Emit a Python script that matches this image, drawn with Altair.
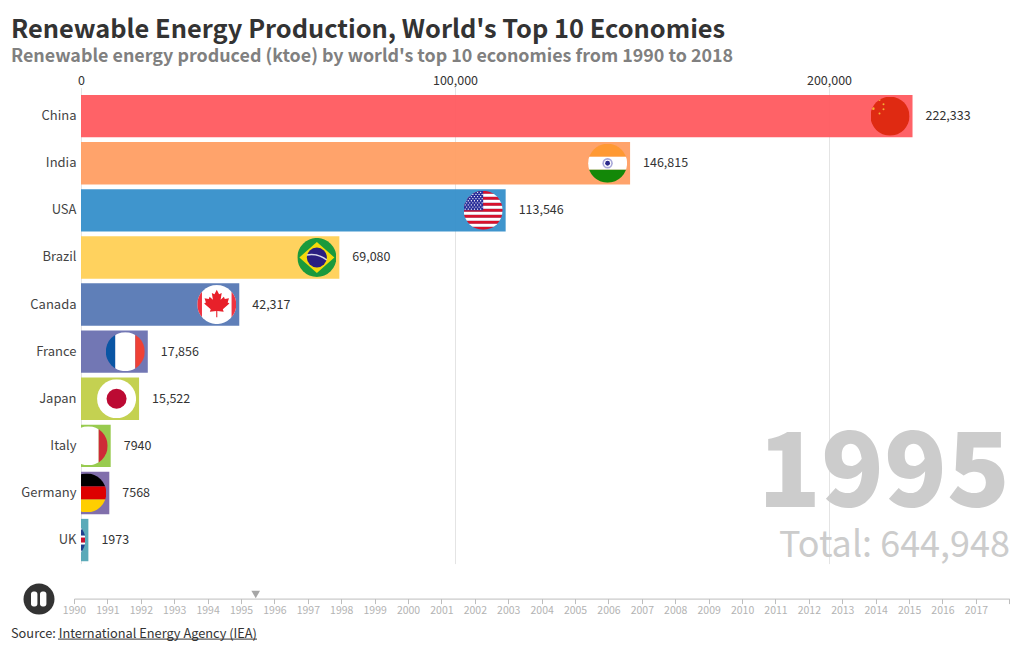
import base64
import altair as alt
import pandas as pd

FONT = "Noto Sans CJK SC"

countries = ["China", "India", "USA", "Brazil", "Canada", "France", "Japan", "Italy", "Germany", "UK"]
values = [222333, 146815, 113546, 69080, 42317, 17856, 15522, 7940, 7568, 1973]
value_labels = ["222,333", "146,815", "113,546", "69,080", "42,317", "17,856", "15,522", "7940", "7568", "1973"]
colors = ["#ff5a5f", "#ff9e63", "#358fca", "#ffd055", "#5678b4", "#6a70b0", "#c1cf48", "#92c846", "#7a67a7", "#52a5b5"]
x_ticks = [0, 100000, 200000]
years = list(range(1990, 2019))
current_year = "1995"
current_pos = 1995.44
total_text = "Total: 644,948"
title_text = "Renewable Energy Production, World's Top 10 Economies"
subtitle_text = "Renewable energy produced (ktoe) by world's top 10 economies from 1990 to 2018"
source_text = "Source: International Energy Agency (IEA)"


def flag(body):
    svg = (
        '<svg xmlns="http://www.w3.org/2000/svg" width="156" height="156" viewBox="0 0 39 39">'
        '<defs><clipPath id="c"><circle cx="19.5" cy="19.5" r="19.5"/></clipPath></defs>'
        f'<g clip-path="url(#c)">{body}</g></svg>'
    )
    return "data:image/svg+xml;base64," + base64.b64encode(svg.encode()).decode()


def r(x, y, w, h, c):
    return f'<rect x="{x}" y="{y}" width="{w}" height="{h}" fill="{c}"/>'


def star(cx, cy, s, c):
    return f'<circle cx="{cx}" cy="{cy}" r="{s}" fill="{c}"/>'


usa = "".join(r(0, i * 3, 39, 3, "#d8122c" if i % 2 == 0 else "#ffffff") for i in range(13)) + r(0, 0, 19.5, 19.5, "#2a2f9a")
usa += "".join(
    star(1.5 + c * 3.1 + (1.5 if row % 2 else 0), 1.5 + row * 2.1, 0.65, "#ffffff")
    for row in range(9) for c in range(6)
)
maple = (
    '<path fill="#e8202a" transform="translate(19.5 18.5) scale(1.1) translate(-19.5 -18.5)" '
    'd="M19.5 6 L21.6 10 L24 8.8 L23 15 L26 12.4 L26.8 14.4 L30.6 13.6 L29.4 17.6 L31 18.4 '
    'L25 23.6 L25.8 26 L20 25.2 L20 31 L19 31 L19 25.2 L13.2 26 L14 23.6 L8 18.4 L9.6 17.6 L8.4 13.6 L12.2 14.4 '
    'L13 12.4 L16 15 L15 8.8 L17.4 10 Z"/>'
)
uk = (
    r(0, 0, 39, 39, "#1f3f8f")
    + '<path d="M0 0 L39 39 M39 0 L0 39" stroke="#ffffff" stroke-width="7"/>'
    + '<path d="M0 0 L39 39 M39 0 L0 39" stroke="#c8102e" stroke-width="2.4"/>'
    + r(15, 0, 9, 39, "#ffffff") + r(0, 15, 39, 9, "#ffffff")
    + r(17, 0, 5, 39, "#c8102e") + r(0, 17, 39, 5, "#c8102e")
)
flags = {
    "China": flag(
        r(0, 0, 39, 39, "#df2a12")
        + star(2.8, 12, 1.3, "#f2b035") + star(9, 3.4, 1.0, "#f2b035") + star(13, 7.7, 1.0, "#f2b035")
        + star(13, 12.7, 1.0, "#f2b035") + star(9, 16.8, 1.0, "#f2b035")
    ),
    "India": flag(
        r(0, 0, 39, 13, "#ff9933") + r(0, 13, 39, 13, "#ffffff") + r(0, 26, 39, 13, "#138808")
        + '<circle cx="19.5" cy="19.5" r="5.2" fill="#a8a8d8"/><circle cx="19.5" cy="19.5" r="3.6" fill="#ffffff"/>'
        + '<circle cx="19.5" cy="19.5" r="2.4" fill="#2c2c8c"/>'
    ),
    "USA": flag(usa),
    "Brazil": flag(
        r(0, 0, 39, 39, "#1b9a3c")
        + '<polygon points="19.5,4 37,19.5 19.5,35 2,19.5" fill="#f5d90a"/>'
        + '<circle cx="19.5" cy="19.5" r="10" fill="#2a1f80"/>'
        + '<path d="M9.5 17 Q20 15 29.4 22" stroke="#d8d8e8" stroke-width="1.4" fill="none"/>'
    ),
    "Canada": flag(r(0, 0, 39, 39, "#ffffff") + r(0, 0, 4.7, 39, "#ef3340") + r(34.3, 0, 4.7, 39, "#ef3340") + maple),
    "France": flag(r(0, 0, 9.5, 39, "#0a55a4") + r(9.5, 0, 20, 39, "#ffffff") + r(29.5, 0, 9.5, 39, "#ef4135")),
    "Japan": flag(r(0, 0, 39, 39, "#ffffff") + '<circle cx="19.5" cy="19.5" r="10" fill="#bc0a33"/>'),
    "Italy": flag(r(0, 0, 12, 39, "#009246") + r(12, 0, 18, 39, "#ffffff") + r(30, 0, 9, 39, "#ce2b37")),
    "Germany": flag(r(0, 0, 39, 13, "#000000") + r(0, 13, 39, 13, "#dd0000") + r(0, 26, 39, 13, "#ffce00")),
    "UK": flag(uk),
}

df = pd.DataFrame({
    "country": countries,
    "value": values,
    "label": value_labels,
    "flag": [flags[c] for c in countries],
})

x_scale = alt.Scale(domain=[0, 248128], nice=False, zero=True)
y_axis = alt.Axis(title=None, domain=False, ticks=False, labelPadding=5, labelFontSize=13,
                  labelColor="#444444", labelFont=FONT, grid=False)
y_enc = alt.Y("country:N", sort=countries, scale=alt.Scale(paddingInner=0.1, paddingOuter=0.05), axis=y_axis)
x_axis = alt.Axis(title=None, orient="top", values=x_ticks, domain=False, grid=True, labelFlush=False,
                  labelExpr="format(datum.value, ',')",
                  gridColor="#e4e4e4", tickColor="#e4e4e4", tickSize=5, labelPadding=0, labelFontSize=12.5,
                  labelColor="#333333", labelFont=FONT)
x_enc = alt.X("value:Q", scale=x_scale, axis=x_axis)

bars = alt.Chart(df).mark_bar(opacity=0.95, size=42.4).encode(
    x=x_enc,
    y=y_enc,
    color=alt.Color("country:N", scale=alt.Scale(domain=countries, range=colors), legend=None),
)
flag_marks = alt.Chart(df).mark_image(width=39, height=39, align="right", clip=True, xOffset=-3).encode(
    x=x_enc, y=y_enc, url="flag:N",
)
value_text = alt.Chart(df).mark_text(align="left", baseline="middle", dx=13, fontSize=12.5, color="#333333", font=FONT).encode(
    x=x_enc, y=y_enc, text="label:N",
)
main = alt.layer(bars, flag_marks, value_text)

year_df = pd.DataFrame({"t": [current_year]})
year_text = alt.Chart(year_df).mark_text(align="right", baseline="alphabetic", fontSize=103.5, fontWeight=900,
                                         color="#cccccc", font=FONT).encode(
    x=alt.value(929), y=alt.value(414), text="t:N")
total_df = pd.DataFrame({"t": [total_text]})
total_mark = alt.Chart(total_df).mark_text(align="right", baseline="alphabetic", fontSize=36, color="#cccccc", font=FONT).encode(
    x=alt.value(929), y=alt.value(464), text="t:N")

tl_scale = alt.Scale(domain=[1990, 2018], range=[-7, 928.3], nice=False, zero=False)
timeline = alt.Chart(pd.DataFrame({"pos": [current_pos]})).mark_point(
    shape="triangle-down", filled=True, size=75, color="#a6a6a6", opacity=1
).encode(
    x=alt.X("pos:Q", scale=tl_scale,
            axis=alt.Axis(title=None, orient="bottom", offset=35, values=years, format="d", grid=False,
                          domainColor="#bdbdbd", tickColor="#bdbdbd", tickSize=5, labelFontSize=10.5,
                          labelColor="#b3b3b3", labelFont=FONT, labelPadding=2, labelFlush=False,
                          labelOverlap=False, labelExpr="datum.value == 2018 ? '' : datum.label")),
    y=alt.value(502),
)

one = pd.DataFrame({"a": [0]})
button = alt.Chart(one).mark_point(shape="circle", filled=True, size=962, color="#333333", opacity=1).encode(
    x=alt.value(-42), y=alt.value(506.5))
pause_l = alt.Chart(one).mark_rect(color="#ffffff", cornerRadius=2.5).encode(
    x=alt.value(-50), x2=alt.value(-43.6), y=alt.value(499), y2=alt.value(514))
pause_r = alt.Chart(one).mark_rect(color="#ffffff", cornerRadius=2.5).encode(
    x=alt.value(-41), x2=alt.value(-34.6), y=alt.value(499), y2=alt.value(514))

source = alt.Chart(pd.DataFrame({"t": [source_text]})).mark_text(
    align="left", baseline="alphabetic", fontSize=12.8, color="#333333", font=FONT
).encode(x=alt.value(-70), y=alt.value(545), text="t:N")
underline = alt.Chart(one).mark_rule(color="#333333", strokeWidth=1).encode(
    x=alt.value(-23), x2=alt.value(176), y=alt.value(546.5))

chart = alt.layer(
    main, year_text, total_mark, timeline, button, pause_l, pause_r, source, underline
).resolve_scale(x="independent").properties(
    width=928,
    height=471,
    autosize="none",
    background="#ffffff",
    padding={"left": 73, "top": 84.6, "right": 3, "bottom": 78},
    title=alt.TitleParams(
        text=title_text, subtitle=subtitle_text, anchor="start", frame="group", dx=-70, offset=9,
        font=FONT, fontSize=25.4, fontWeight="bold", color="#333333",
        subtitleFont=FONT, subtitleFontSize=17.9, subtitleFontWeight="bold", subtitleColor="#808080", subtitlePadding=4,
    ),
).configure_view(strokeWidth=0, stroke="transparent")

chart.save("out.html", embed_options={"renderer": "svg", "actions": False})
